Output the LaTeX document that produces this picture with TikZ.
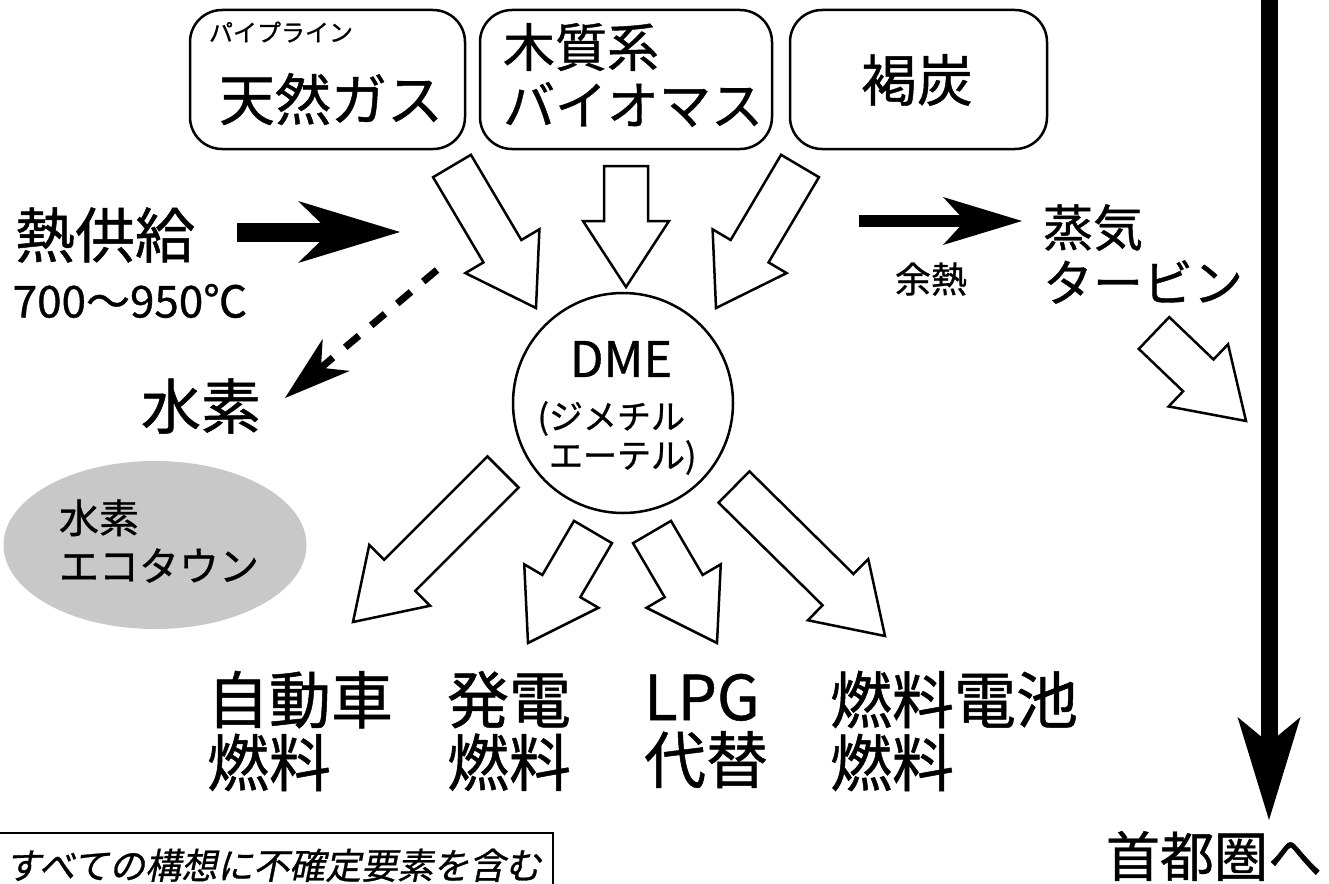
\documentclass[tikz,border=0pt]{standalone}
\usepackage{fontspec}
\setmainfont[FakeBold=0.8]{Noto Sans CJK JP}
\newfontfamily\notefont[FakeSlant=0.2, FakeBold=0.8]{Noto Sans CJK JP}
\usetikzlibrary{calc,arrows.meta,shapes.geometric}
\definecolor{ecogray}{RGB}{200,200,200}
\newcommand\fsz[2]{\fontsize{#1pt}{#2pt}\selectfont}
% white block arrow from tail #1 to tip #2
\newcommand\hollowarrow[2]{%
  \coordinate (hb) at ($(#2)!66pt!(#1)$);
  \draw[hollow] ($(#1)!22pt!90:(#2)$) -- ($(hb)!22pt!90:(#2)$) -- ($(hb)!43pt!90:(#2)$) -- (#2)
    -- ($(hb)!43pt!-90:(#2)$) -- ($(hb)!22pt!-90:(#2)$) -- ($(#1)!22pt!-90:(#2)$) -- cycle;}
\begin{document}
\begin{tikzpicture}[x=1pt, y=-1pt, line join=miter,
    box/.style={draw, line width=2.5pt, rounded corners=32pt},
    hollow/.style={draw, fill=white, line width=2.5pt},
    lbl/.style={inner sep=0pt, align=left}]
  \useasboundingbox (0,0) rectangle (1329,883);
  \clip (0,0) rectangle (1329,883);
  % sources
  \draw[box] (190,10) rectangle (465,149);
  \draw[box] (480,10) rectangle (772,149);
  \draw[box] (790,10) rectangle (1047,149);
  \node[lbl, font=\fsz{24}{28}] (pipe) at (281,32) {パイプライン};
  \node[lbl, font=\fsz{56}{64}] (gas) at (331,99) {天然ガス};
  \node[lbl, font=\fsz{52}{58}] (bio) at (633,75) {木質系\\バイオマス};
  \node[lbl, font=\fsz{56}{64}] (coal) at (917,80) {褐炭};
  % DME
  \node[circle, draw, line width=2.5pt, minimum size=220pt] (dme) at (623,403) {};
  \node[lbl, font=\fsz{49}{56}] (dmename) at (621,359) {DME};
  \node[lbl, font=\fsz{34}{39}] (dmeful) at (617,438) {(ジメチル\\\hphantom{(}エーテル)};
  % left side
  \node[lbl, font=\fsz{60}{66}] (heat) at (105,235) {熱供給};
  \node[lbl, font=\fsz{44}{50}] (temp) at (130,301) {700〜950℃};
  \node[lbl, font=\fsz{60}{66}] (hydro) at (201,406) {水素};
  \node[ellipse, fill=ecogray, minimum width=303pt, minimum height=168pt] (eco) at (155,545) {};
  \node[lbl, font=\fsz{40}{48}] (ecotext) at (159,541) {水素\\エコタウン};
  % products
  \node[lbl, font=\fsz{62}{63}] (car) at (300,731) {自動車\\燃料};
  \node[lbl, font=\fsz{62}{63}] (power) at (509,731) {発電\\燃料};
  \node[lbl, font=\fsz{62}{63}] (lpg) at (706,731) {LPG\\代替};
  \node[lbl, font=\fsz{62}{63}] (fuelcell) at (954,731) {燃料電池\\燃料};
  % right side
  \node[lbl, font=\fsz{50}{55}] (steam) at (1143,254) {蒸気\\タービン};
  \node[lbl, font=\fsz{36}{40}] (waste) at (931,279) {余熱};
  \node[lbl, font=\fsz{54}{60}] (capital) at (1214,856) {首都圏へ};
  % note
  \draw[line width=2.5pt] (-3,833) rectangle (553,900);
  \node[anchor=base west, inner sep=0pt, font=\notefont\fsz{36}{40}] (note) at (5,879) {すべての構想に不確定要素を含む};
  \path
  (452,166) coordinate (gasT)   (536,308) coordinate (gasH)
  (626,166) coordinate (bioT)   (626,287) coordinate (bioH)
  (800,166) coordinate (coalT)  (716,308) coordinate (coalH)
  (503,472) coordinate (carT)   (353,622) coordinate (carH)
  (593,532) coordinate (powT)   (528,643) coordinate (powH)
  (652,532) coordinate (lpgT)   (717,643) coordinate (lpgH)
  (734,487) coordinate (fcT)    (885,636) coordinate (fcH)
  (1154,333) coordinate (stT)   (1246,421) coordinate (stH)
  (237,232) coordinate (heatA)  (400,232) coordinate (heatB)
  (859,221) coordinate (wasteA) (1022,221) coordinate (wasteB)
  (437,270) coordinate (hyA)    (285,398) coordinate (hyB)
  (1269,-5) coordinate (capA)   (1269,820) coordinate (capB)
  ;
  \foreach \t/\h in {gasT/gasH, bioT/bioH, coalT/coalH, carT/carH, powT/powH, lpgT/lpgH, fcT/fcH, stT/stH}
    \hollowarrow{\t}{\h};
  \draw[line width=19pt, -{Stealth[length=102pt, width=62pt, inset=32pt, line width=0pt]}] (heatA) -- (heatB);
  \draw[line width=12pt, -{Stealth[length=79pt, width=48pt, inset=22pt, line width=0pt]}] (wasteA) -- (wasteB);
  \draw[line width=17pt, -{Stealth[length=103pt, width=63pt, inset=26pt, line width=0pt]}] (capA) -- (capB);
  \draw[line width=7pt, dash pattern=on 18pt off 16pt, -{Stealth[length=67pt, width=42pt, inset=20pt, line width=0pt]}] (hyA) -- (hyB);
\end{tikzpicture}
\end{document}
